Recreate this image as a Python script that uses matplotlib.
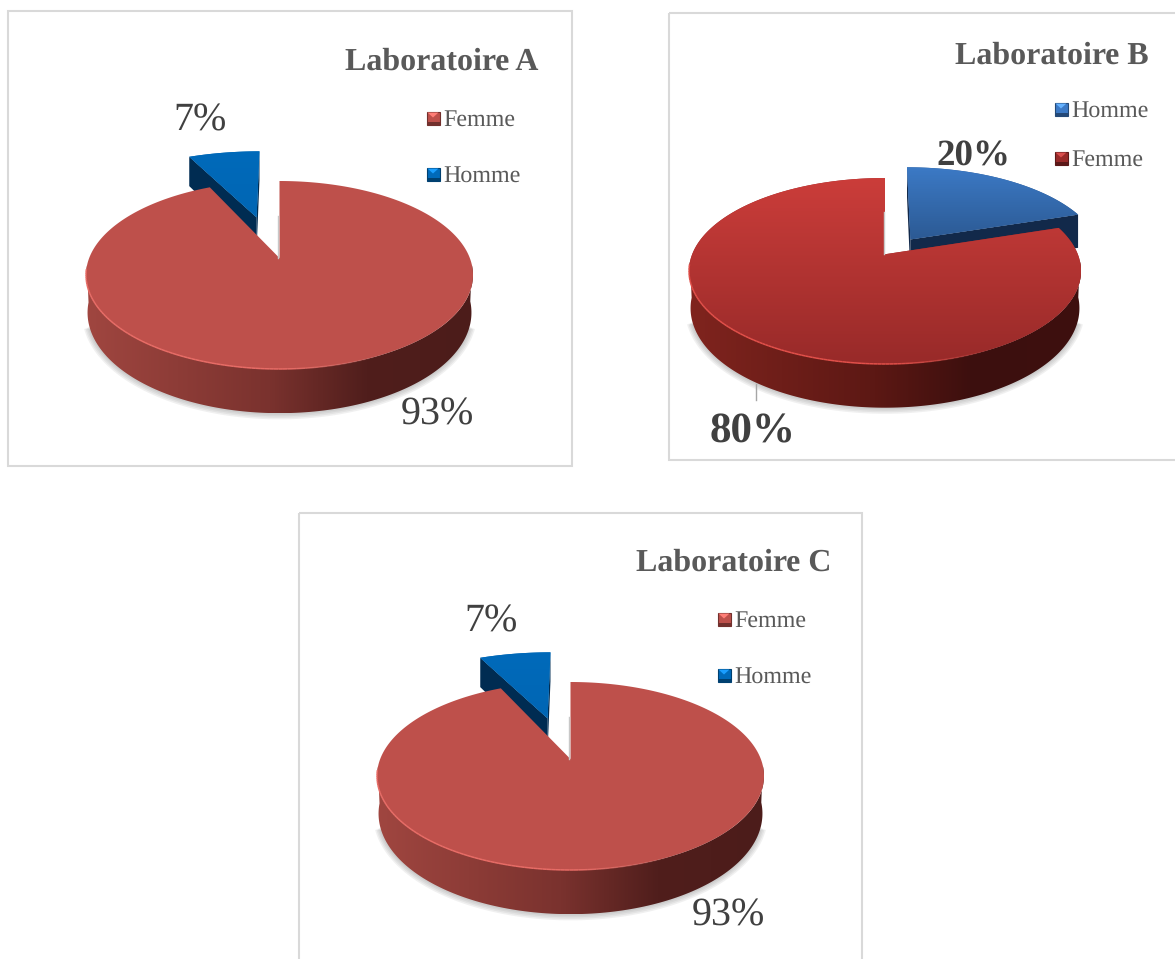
#Importing libraries
import numpy as np
import matplotlib
matplotlib.use('Agg')
import matplotlib.pyplot as plt
from matplotlib.patches import Polygon, Rectangle
from matplotlib.collections import LineCollection

plt.rcParams['font.family'] = ['Liberation Serif', 'DejaVu Serif']
plt.rcParams['text.hinting'] = 'none'
plt.rcParams['text.hinting_factor'] = 1

#Survey shares per laboratory, in slice order (clockwise from the top)
titles = ['Laboratoire A', 'Laboratoire B', 'Laboratoire C']
categories_a = ['Femme', 'Homme']
values_a = [93, 7]
categories_b = ['Homme', 'Femme']
values_b = [20, 80]
categories_c = ['Femme', 'Homme']
values_c = [93, 7]

W, H = 1175, 959
NEAR = 0.18  #how far the pie centre sits above the middle of the ellipse
WALL = 0.40
WALL_TILT = 0.07


def rgb(*c):
    return np.array(c) / 255


#Colours of each look
warm = {'Femme': {'top': (rgb(190, 80, 75), rgb(190, 80, 75)), 'side': rgb(150, 60, 55)},
        'Homme': {'top': (rgb(0, 106, 186), rgb(0, 102, 180)), 'side': rgb(0, 44, 82)},
        'ramp': [rgb(160, 70, 64), rgb(122, 50, 46), rgb(80, 30, 28), rgb(76, 28, 26)],
        'rim': rgb(232, 108, 102)}
deep = {'Femme': {'top': (rgb(203, 61, 58), rgb(152, 42, 41)), 'side': rgb(110, 30, 26)},
        'Homme': {'top': (rgb(60, 122, 198), rgb(44, 90, 148)), 'side': rgb(18, 41, 74)},
        'ramp': [rgb(128, 36, 30), rgb(92, 24, 20), rgb(60, 15, 14), rgb(62, 16, 15)],
        'rim': rgb(226, 80, 74)}


#Project a point of the flat disc onto the tilted ellipse
def project(x, y):
    x, y = np.asarray(x, dtype=float), np.asarray(y, dtype=float)
    d = 1 + NEAR * y
    return x * np.sqrt(1 - NEAR ** 2) / d, (y + NEAR) / d


def drop(x, y, shrink=0.992):
    return x * shrink, y - (WALL - WALL_TILT * y)


def gradient_fill(ax, xy, colors, zorder):
    patch = Polygon(xy, closed=True, facecolor=colors[1], edgecolor='none', zorder=zorder)
    ax.add_patch(patch)
    if np.allclose(colors[0], colors[1]):
        return
    steps = np.linspace(0, 1, 128)[:, None, None]
    img = colors[0] * (1 - steps) + colors[1] * steps
    extent = [xy[:, 0].min(), xy[:, 0].max(), xy[:, 1].min(), xy[:, 1].max()]
    im = ax.imshow(img, extent=extent, aspect='auto', origin='upper', zorder=zorder + 0.1)
    im.set_clip_path(patch)


#Outer wall, shaded left to right
def wall_fill(ax, rx, ry, ramp, zorder):
    keep = ry < 0.12
    bx, by = drop(rx, ry)
    xy = np.column_stack([np.r_[rx[keep], bx[keep][::-1]], np.r_[ry[keep], by[keep][::-1]]])
    patch = Polygon(xy, closed=True, facecolor='none', edgecolor='none', zorder=zorder)
    ax.add_patch(patch)
    xs = np.linspace(-1, 1, 400)
    img = np.stack([np.interp(xs, [-1, -0.05, 0.45, 1], [c[j] for c in ramp]) for j in range(3)], axis=-1)[None, :, :]
    im = ax.imshow(img, extent=[-1, 1, xy[:, 1].min(), xy[:, 1].max()], aspect='auto', zorder=zorder)
    im.set_clip_path(patch)


def draw_pie(ax, categories, values, style, exploded, explode, nudge, spread):
    total = sum(values)
    start = 0
    wedges = []
    for cat, val in zip(categories, values):
        span = val / total * 360
        wedges.append((cat, start, start + span))
        start += span

    #Soft shadow under the wall
    phi = np.radians(np.linspace(188, 352, 120))
    for k in [0.028, 0.021, 0.014, 0.007]:
        sx, sy = drop(np.cos(phi), np.sin(phi))
        ax.fill(sx * (1 + k), sy * (1 + 1.6 * k), color='#606060', alpha=0.09, lw=0, zorder=1)

    #The pulled-out slice goes first so the big one overlaps it
    wedges.sort(key=lambda w: w[0] != exploded)
    for cat, a0, a1 in wedges:
        mid = np.radians((a0 + a1) / 2)
        off = explode if cat == exploded else 0
        ox, oy = off * np.sin(mid), off * np.cos(mid)
        theta = np.radians(np.linspace(a0, a1, 300))
        rx, ry = project(np.sin(theta) + ox, np.cos(theta) + oy)
        ax_, ay_ = project(ox, oy)
        colors = style[cat]
        base = 3 if cat == exploded else 6

        if cat == exploded:
            rx, ax_ = ax_ + nudge + (rx - ax_) * spread, ax_ + nudge
            #Cut faces of the pulled-out slice
            for i in (0, -1):
                bx0, by0 = drop(ax_, ay_, 1)
                bx1, by1 = drop(rx[i], ry[i], 1)
                face = np.array([[ax_, ay_], [rx[i], ry[i]], [bx1, by1], [bx0, by0]])
                ax.add_patch(Polygon(face, closed=True, facecolor=colors['side'],
                                     edgecolor='none', zorder=base))
        else:
            wall_fill(ax, rx, ry, style['ramp'], base)

        top = np.column_stack([np.r_[ax_, rx], np.r_[ay_, ry]])
        gradient_fill(ax, top, colors['top'], base + 1)

        if cat != exploded:
            #Lit edge along the front of the disc, fading out to the right
            front = ry < 0.08
            pts = np.column_stack([rx[front], ry[front]])
            segs = np.stack([pts[:-1], pts[1:]], axis=1)
            fade = np.clip((0.55 - pts[:-1, 0]) / 0.5, 0, 1)
            seg_colors = np.column_stack([np.tile(style['rim'], (len(segs), 1)), fade])
            ax.add_collection(LineCollection(segs, colors=seg_colors, linewidths=1.1, zorder=base + 2))
            #Faint inner edge of the gap
            ax.plot([ax_ - 0.006, ax_ - 0.006], [ay_, ay_ + 0.45], color='#c8c8c8', lw=1, zorder=base + 2)


#Bevelled legend swatch
def swatch(ax, x, y, color):
    s = 6.5
    base = np.array(color)
    light = np.clip(base * 1.25 + 0.1, 0, 1)
    dark = base * 0.6
    ax.add_patch(Rectangle((x - s, y - s), 2 * s, 2 * s, facecolor=base, edgecolor=dark, lw=0.8, zorder=2))
    ax.add_patch(Polygon([[x - s + 1, y - s + 1], [x + s - 1, y - s + 1], [x, y - 0.5]], closed=True,
                         facecolor=light, edgecolor='none', zorder=3))
    ax.add_patch(Rectangle((x - s, y + 3.5), 2 * s, s - 3.5, facecolor=dark, edgecolor='none', zorder=3))


fig = plt.figure(figsize=(W / 100, H / 100), dpi=100, facecolor='white')

page = fig.add_axes([0, 0, 1, 1], zorder=5)
page.set_xlim(0, W)
page.set_ylim(H, 0)
page.axis('off')
page.patch.set_alpha(0)

#Panel frames
for left, top, right, bottom in [(8, 11, 572, 466), (669, 13, 1190, 460), (299, 513, 862, 975)]:
    page.add_patch(Rectangle((left, top), right - left, bottom - top, facecolor='none', edgecolor='#d9d9d9', lw=1.5))

#Pie geometry in pixels: centre x, centre y, radius x, radius y
panels = [
    (titles[0], categories_a, values_a, warm, (279.5, 275, 193.5, 94), 0.5, -0.02, 1.08, 538, 59),
    (titles[1], categories_b, values_b, deep, (885, 271, 196, 93), 0.21, 0.012, 1.0, 1149, 53),
    (titles[2], categories_c, values_c, warm, (570.5, 776, 193.5, 94), 0.5, -0.02, 1.08, 831, 560),
]
x_span = (-1.2, 1.2)
y_span = (-1.7, 1.6)

for title, cats, vals, style, (cx, cy, rx, ry), explode, nudge, spread, title_x, title_y in panels:
    left = cx + x_span[0] * rx
    bottom = H - (cy - y_span[0] * ry)
    ax = fig.add_axes([left / W, bottom / H, (x_span[1] - x_span[0]) * rx / W, (y_span[1] - y_span[0]) * ry / H])
    ax.axis('off')
    draw_pie(ax, cats, vals, style, 'Homme', explode, nudge, spread)
    ax.set_xlim(*x_span)
    ax.set_ylim(*y_span)
    page.text(title_x, title_y + 3, title, ha='right', va='center', fontsize=23.2, fontweight='bold', color='#595959')

#Legends
for x0, ys, cats, style in [(433, (118, 174), categories_a, warm),
                            (1061, (109, 158), categories_b, deep),
                            (724, (619, 675), categories_c, warm)]:
    for y, cat in zip(ys, cats):
        swatch(page, x0, y, style[cat]['top'][1] if cat == 'Femme' else style[cat]['top'][0])
        page.text(x0 + 10, y + 2, cat, ha='left', va='center', fontsize=17.3, color='#595959')

#Data labels
page.text(200, 121, f'{values_a[1]}%', ha='center', va='center', fontsize=29, color='#404040')
page.text(437.5, 415, f'{values_a[0]}%', ha='center', va='center', fontsize=29, color='#404040')
page.text(491, 622, f'{values_c[1]}%', ha='center', va='center', fontsize=29, color='#404040')
page.text(728.5, 916, f'{values_c[0]}%', ha='center', va='center', fontsize=29, color='#404040')
page.text(973.5, 157, f'{values_b[0]}%', ha='center', va='center', fontsize=26.5, fontweight='bold', color='#404040')
page.text(753, 432, f'{values_b[1]}%', ha='center', va='center', fontsize=31, fontweight='bold', color='#404040')
page.plot([756, 756], [384, 400], color='#a6a6a6', lw=1)

fig.savefig('out.png', dpi=100, facecolor='white')
